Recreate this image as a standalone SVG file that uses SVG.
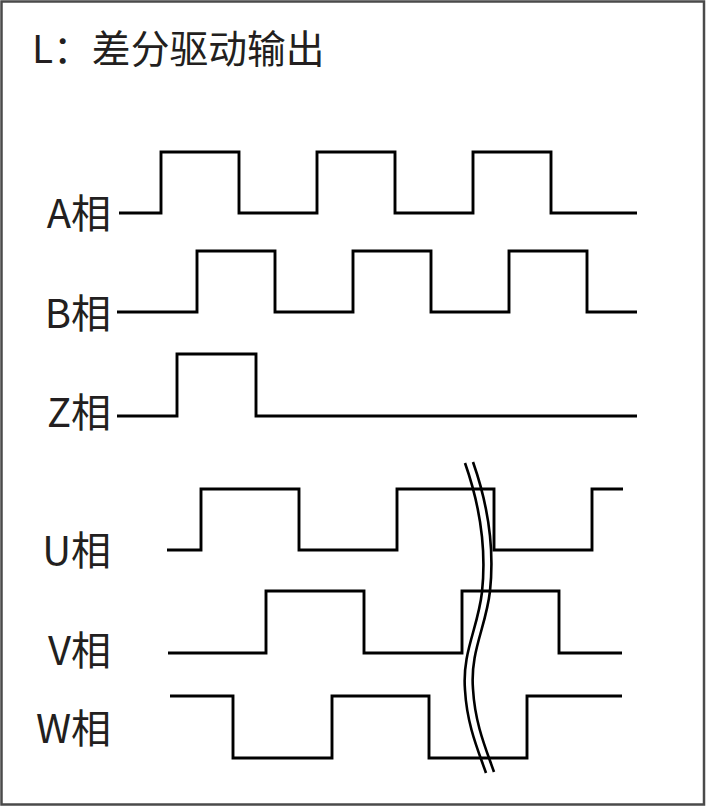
<svg xmlns="http://www.w3.org/2000/svg" width="706" height="808" viewBox="0 0 706 808">
<style>
.lbl{font-family:"Noto Sans CJK SC","Noto Sans",sans-serif;font-size:40px;fill:#231f20}
.ttl{font-family:"Noto Sans CJK SC","Noto Sans",sans-serif;font-size:38.8px;fill:#231f20}
.wave{fill:none;stroke:#000;stroke-width:2.9;stroke-linejoin:miter;stroke-linecap:butt}
.brk{fill:none;stroke:#000;stroke-width:2.6}
</style>
<rect x="1.5" y="1.5" width="702.5" height="803" fill="#fff" stroke="#4a4a4a" stroke-width="2.5"/>
<g id="title"><text class="ttl" x="32" y="63">L：差分驱动输出</text></g>
<g id="labels">
<g id="label-A"><text class="lbl" x="111" y="228" text-anchor="end">A相</text></g>
<g id="label-B"><text class="lbl" x="111" y="328" text-anchor="end">B相</text></g>
<g id="label-Z"><text class="lbl" x="111" y="427" text-anchor="end">Z相</text></g>
<g id="label-U"><text class="lbl" x="111" y="565" text-anchor="end">U相</text></g>
<g id="label-V"><text class="lbl" x="111" y="665" text-anchor="end">V相</text></g>
<g id="label-W"><text class="lbl" x="111" y="743" text-anchor="end">W相</text></g>
</g>
<g id="waveforms">
<path id="wave-A" class="wave" d="M119,213 H161 V152 H239 V213 H317 V152 H395 V213 H473 V152 H551 V213 H637"/>
<path id="wave-B" class="wave" d="M117,312 H197 V251 H275 V312 H353 V251 H431 V312 H509 V251 H587 V312 H637"/>
<path id="wave-Z" class="wave" d="M117,416 H177 V354 H256 V416 H637"/>
<path id="wave-U" class="wave" d="M167,550 H201 V489 H299 V550 H397 V489 H494 V550 H592 V489 H623"/>
<path id="wave-V" class="wave" d="M168,653 H266 V591 H364 V653 H462 V591 H559 V653 H622"/>
<path id="wave-W" class="wave" d="M170,696 H233 V758 H332 V696 H429 V758 H527 V696 H622"/>
</g>
<g id="break">
<path class="brk" d="M465,463 C478,500 487,545 482,592 C478,628 462,652 465,690 C467,725 478,750 486,773"/>
<path class="brk" d="M473,462 C486,499 495,544 490,591 C486,627 470,651 473,689 C475,724 486,749 494,772"/>
</g>
</svg>
